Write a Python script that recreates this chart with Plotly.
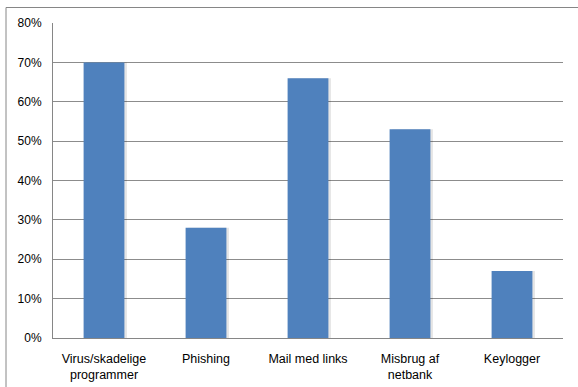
import plotly.graph_objects as go

categories = ["Virus/skadelige<br>programmer", "Phishing", "Mail med links",
              "Misbrug af<br>netbank", "Keylogger"]
values = [0.70, 0.28, 0.66, 0.53, 0.17]
y_ticks = [0, 0.1, 0.2, 0.3, 0.4, 0.5, 0.6, 0.7, 0.8]
y_tick_labels = ["0%", "10%", "20%", "30%", "40%", "50%", "60%", "70%", "80%"]

BAR_COLOR = "#4F81BD"
FAMILY = "Liberation Sans, Arial, sans-serif"
Y_FONT = dict(family=FAMILY, size=12, color="#000000")
X_FONT = dict(family=FAMILY, size=12.5, color="#000000")

x_idx = list(range(len(categories)))

fig = go.Figure()

# soft drop shadow to the right of each column
fig.add_trace(go.Bar(
    x=x_idx, y=values, width=0.4, offset=-0.175,
    marker=dict(color="rgba(0,0,0,0.10)", line=dict(width=0)),
    hoverinfo="skip", showlegend=False,
))
fig.add_trace(go.Bar(
    x=x_idx, y=values, width=0.4, offset=-0.2,
    marker=dict(color=BAR_COLOR, line=dict(width=0)),
    showlegend=False,
))

fig.update_layout(
    width=578, height=387,
    margin=dict(l=53, r=15, t=23, b=49),
    paper_bgcolor="white", plot_bgcolor="white",
    barmode="overlay",
    font=Y_FONT,
    xaxis=dict(
        tickmode="array", tickvals=x_idx, ticktext=categories,
        range=[-0.5, len(categories) - 0.5],
        showgrid=False, showline=True, linecolor="#868686", linewidth=1,
        ticks="", zeroline=False, tickfont=X_FONT, ticklabelstandoff=9,
        automargin=False,
    ),
    yaxis=dict(
        range=[0, 0.8], tickmode="array", tickvals=y_ticks, ticktext=y_tick_labels,
        showgrid=True, gridcolor="#8c8c8c", gridwidth=1,
        showline=True, linecolor="#868686", linewidth=1,
        ticks="outside", ticklen=6, tickcolor="rgba(0,0,0,0)",
        ticklabelstandoff=2, zeroline=False, tickfont=Y_FONT,
        automargin=False,
    ),
    shapes=[dict(
        type="rect", xref="paper", yref="paper",
        x0=-47 / 315 * 315 / 510, x1=1.2, y0=-0.3, y1=1 + 15.5 / 315,
        line=dict(color="#868686", width=1), fillcolor="rgba(0,0,0,0)",
        layer="below",
    )],
)

fig.write_html("out.html")
